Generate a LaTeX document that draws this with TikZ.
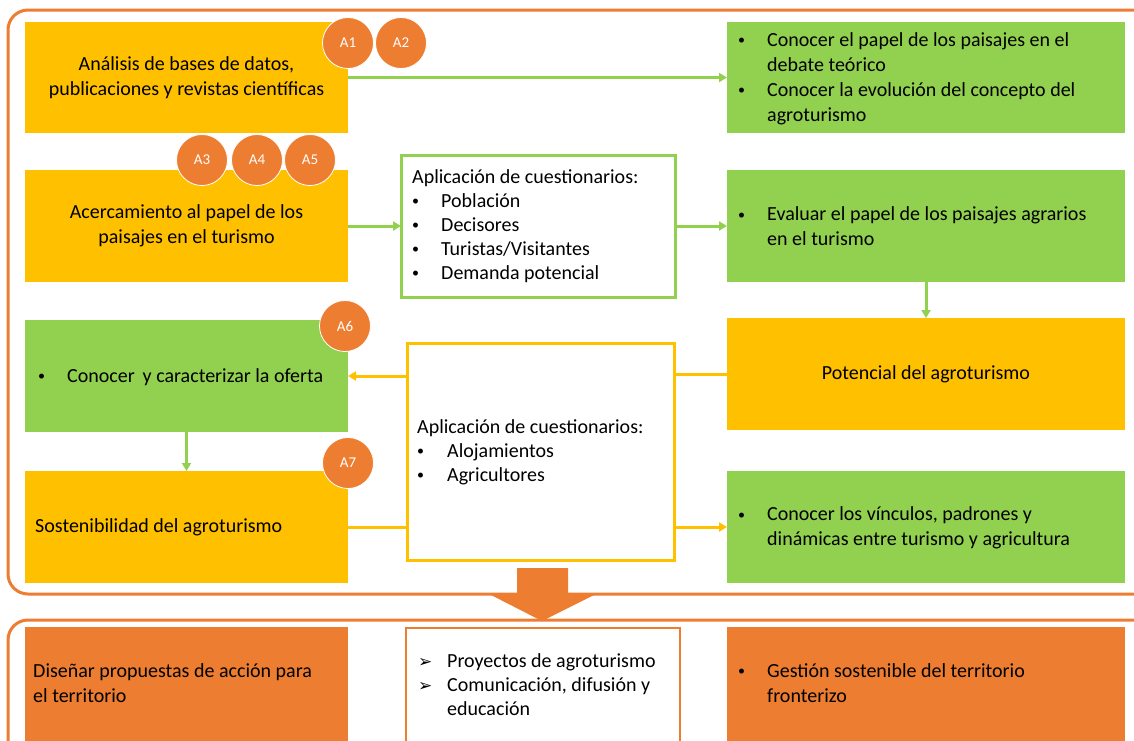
\documentclass[tikz,border=0pt]{standalone}
\usepackage{fontspec}
\setmainfont{Carlito}
\newfontfamily\dejavu{DejaVu Sans}
\usetikzlibrary{arrows.meta}
\definecolor{cyel}{HTML}{FFC000}
\definecolor{cgrn}{HTML}{92D050}
\definecolor{corg}{HTML}{ED7D31}
\newcommand\smbul{{\fontsize{14}{14}\selectfont\raisebox{1.5pt}{•}}}
\newcommand\bulit{\makebox[29pt][l]{\smbul}}
\newcommand\bulin{\hspace*{29pt}}
\newcommand\arrit{\makebox[29pt][l]{\dejavu\fontsize{17}{17}\selectfont ➢}}
\tikzset{
  box/.style={anchor=north west, inner sep=0, outer sep=0},
  ybox/.style={box, fill=cyel, font={\fontsize{20}{25}\selectfont}, align=center},
  gbox/.style={box, fill=cgrn},
  obox/.style={box, fill=corg},
  wbox/.style={box, fill=white, line width=3pt},
  frame/.style={draw=corg, line width=3pt, rounded corners=20pt},
  act/.style={circle, fill=corg, draw=white, line width=0.8pt, minimum size=51pt, inner sep=0, text=white, font={\fontsize{15}{15}\selectfont}},
  txt/.style={anchor=west, inner sep=0, align=left, font={\fontsize{20}{25}\selectfont}},
  txtq/.style={txt, font={\fontsize{20}{24}\selectfont}},
  garr/.style={draw=cgrn, line width=3pt, -{Triangle[length=8pt,width=9pt]}},
  yarr/.style={draw=cyel, line width=3pt, -{Triangle[length=8pt,width=9pt]}},
  yline/.style={draw=cyel, line width=3pt},
}
\begin{document}
\begin{tikzpicture}[x=1pt, y=-1pt]
\useasboundingbox (0,0) rectangle (1134,740);
\clip (0,0) rectangle (1134,740);
\fill[white] (0,0) rectangle (1134,740);
% frames
\draw[frame] (8,10) rectangle (1160,594);
\draw[frame] (8,620) rectangle (1160,780);
% boxes
\node[ybox, minimum width=323pt, minimum height=111pt] (ana) at (25,22) {An\'alisis de bases de datos,\\publicaciones y revistas cient\'ificas};
\node[gbox, minimum width=398pt, minimum height=111pt] (con1) at (727,22) {};
\node[ybox, minimum width=323pt, minimum height=112pt] (acer) at (25,170) {Acercamiento al papel de los\\paisajes en el turismo};
\node[wbox, draw=cgrn, minimum width=274pt, minimum height=142pt] (cues1) at (401,155) {};
\node[gbox, minimum width=398pt, minimum height=112pt] (eval) at (727,170) {};
\node[gbox, minimum width=323pt, minimum height=112pt] (oferta) at (25,320) {};
\node[ybox, minimum width=398pt, minimum height=112pt] (pot) at (727,318) {Potencial del agroturismo};
\node[wbox, draw=cyel, minimum width=267pt, minimum height=217pt] (cues2) at (407,343) {};
\node[ybox, minimum width=323pt, minimum height=112pt] (sost) at (25,471) {};
\node[gbox, minimum width=398pt, minimum height=112pt] (vinc) at (727,471) {};
\node[obox, minimum width=323pt, minimum height=130pt] (dis) at (25,627) {};
\node[wbox, draw=corg, line width=2.5pt, minimum width=274pt, minimum height=130pt] (proy) at (406,628) {};
\node[obox, minimum width=398pt, minimum height=130pt] (gest) at (727,627) {};
% connectors
\draw[garr] (ana.east) -- (con1.west);
\draw[garr] (acer.east) -- (cues1.west);
\draw[garr] (cues1.east) -- (eval.west);
\draw[garr] (eval.south) -- (pot.north);
\draw[yline] (pot.west) -- (pot.west -| cues2.east);
\draw[yarr] (cues2.west |- oferta.east) -- (oferta.east);
\draw[garr] (oferta.south) -- (sost.north);
\draw[yline] (sost.east) -- (sost.east -| cues2.west);
\draw[yarr] (cues2.east |- vinc.west) -- (vinc.west);
% big arrow
\fill[corg] (517,568) -- (568,568) -- (568,594) -- (596,594) -- (542,621) -- (489,594) -- (517,594) -- cycle;
% activity circles
\node[act] (a1) at (348,43) {A1};
\node[act] (a2) at (401,43) {A2};
\node[act] (a3) at (202,160) {A3};
\node[act] (a4) at (257,160) {A4};
\node[act] (a5) at (310,160) {A5};
\node[act] (a6) at (345,326) {A6};
\node[act] (a7) at (348,463) {A7};
% texts
\node[txt] (t1) at (738,78.5) {\bulit Conocer el papel de los paisajes en el\\\bulin debate te\'orico\\\bulit Conocer la evoluci\'on del concepto del\\\bulin agroturismo};
\node[txtq] (t2) at (412,226) {Aplicaci\'on de cuestionarios:\\\bulit Poblaci\'on\\\bulit Decisores\\\bulit Turistas/Visitantes\\\bulit Demanda potencial};
\node[txt] (t3) at (738,226.5) {\bulit Evaluar el papel de los paisajes agrarios\\\bulin en el turismo};
\node[txt] (t4) at (38,377) {\bulit Conocer\, y caracterizar la oferta};
\node[txtq] (t5) at (417,452) {Aplicaci\'on de cuestionarios:\\\makebox[30pt][l]{\smbul}Alojamientos\\\makebox[30pt][l]{\smbul}Agricultores};
\node[txt] (t6) at (35,527) {Sostenibilidad del agroturismo};
\node[txt] (t7) at (738,528) {\bulit Conocer los v\'inculos, padrones y\\\bulin din\'amicas entre turismo y agricultura};
\node[txt] (t8) at (33,683) {Dise\~nar propuestas de acci\'on para\\el territorio};
\node[txtq] (t9) at (418,685) {\arrit Proyectos de agroturismo\\\arrit Comunicaci\'on, difusi\'on y\\\bulin educaci\'on};
\node[txt] (t10) at (738,683) {\bulit Gesti\'on sostenible del territorio\\\bulin fronterizo};
\end{tikzpicture}
\end{document}
